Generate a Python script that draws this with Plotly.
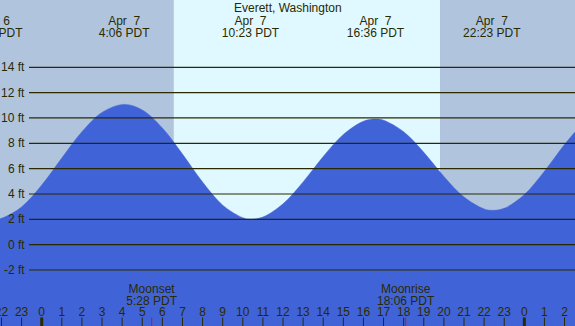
import plotly.graph_objects as go

# ---- data (hours relative to midnight, Apr 7, PDT) ----
tide_hours = [-3, -2.38, -2, -1, 0, 1, 2, 3, 4.1, 5, 6, 7, 8, 9, 10, 10.383, 11, 12, 13,
              14, 15, 16, 16.6, 17, 18, 19, 20, 21, 22, 22.383, 23, 24, 25, 26, 27]
tide_feet = [2.2, 2.0, 2.08, 2.98, 4.70, 6.84, 8.91, 10.44, 11.07, 10.63, 9.21, 7.15, 4.94,
             3.12, 2.13, 2.02, 2.18, 3.22, 4.95, 6.96, 8.70, 9.74, 9.91, 9.82, 8.91, 7.29,
             5.38, 3.76, 2.82, 2.71, 2.87, 3.95, 5.79, 7.91, 9.76]

extreme_hours = [-2.383, 4.1, 10.383, 16.6, 22.383]
extreme_dates = ["Apr\u00a0\u00a06", "Apr\u00a0\u00a07", "Apr\u00a0\u00a07", "Apr\u00a0\u00a07", "Apr\u00a0\u00a07"]
extreme_times = ["21:37 PDT", "4:06 PDT", "10:23 PDT", "16:36 PDT", "22:23 PDT"]

sunrise_hour = 6.567   # 6:34
sunset_hour = 19.81    # 19:49

moon_hours = [5.467, 18.1]
moon_names = ["Moonset", "Moonrise"]
moon_times = ["5:28 PDT", "18:06 PDT"]

hour_ticks = list(range(-2, 27))
hour_labels = [str(h % 24) for h in hour_ticks]

feet_ticks = [14, 12, 10, 8, 6, 4, 2, 0, -2]
feet_labels = [f"{v} ft" for v in feet_ticks]

title = "Everett, Washington"

# ---- styles ----
W, H = 575, 326
NIGHT = "#b0c4de"
DAY = "#e0f8ff"
WATER = "#4163d8"
INK = "#2a2a00"
FONT = "Liberation Sans"
X_RANGE = [-2.074, 26.52]
Y_RANGE = [-6.42, 19.31]

fig = go.Figure()

# baseline under the water fill
fig.add_trace(go.Scatter(x=[X_RANGE[0] - 2, X_RANGE[1] + 2], y=[Y_RANGE[0] - 5] * 2,
                         mode="lines", line=dict(width=0, color=WATER),
                         hoverinfo="skip", showlegend=False))
fig.add_trace(go.Scatter(x=tide_hours, y=tide_feet, mode="lines",
                         line=dict(width=0.5, color=WATER, shape="spline"),
                         fill="tonexty", fillcolor=WATER,
                         hoverinfo="skip", showlegend=False))

# text rows on an overlay axis (0..1)
def text_row(xs, texts, yv):
    fig.add_trace(go.Scatter(x=xs, y=[yv] * len(xs), text=texts, mode="text",
                             textposition="middle center", yaxis="y2", cliponaxis=True,
                             textfont=dict(family=FONT, size=12, color=INK),
                             hoverinfo="skip", showlegend=False))

text_row(extreme_hours, extreme_dates, 1 - 21.5 / H)
text_row(extreme_hours, extreme_times, 1 - 33.5 / H)
text_row(moon_hours, moon_names, 1 - 289.5 / H)
text_row(moon_hours, moon_times, 1 - 301.5 / H)
text_row(hour_ticks, hour_labels, 1 - 313 / H)

shapes = []
# night / day background
shapes.append(dict(type="rect", xref="x", yref="paper", x0=X_RANGE[0] - 1, x1=sunrise_hour,
                   y0=0, y1=1, fillcolor=NIGHT, line=dict(width=0), layer="below"))
shapes.append(dict(type="rect", xref="x", yref="paper", x0=sunrise_hour, x1=sunset_hour,
                   y0=0, y1=1, fillcolor=DAY, line=dict(width=0), layer="below"))
shapes.append(dict(type="rect", xref="x", yref="paper", x0=sunset_hour, x1=X_RANGE[1] + 1,
                   y0=0, y1=1, fillcolor=NIGHT, line=dict(width=0), layer="below"))
# horizontal level lines
for v in feet_ticks:
    shapes.append(dict(type="line", xref="paper", yref="y", x0=29 / W, x1=1, y0=v, y1=v,
                       line=dict(color=INK, width=1.2), layer="above"))
# hour ticks
for h in hour_ticks:
    thick = (h % 24 == 0)
    shapes.append(dict(type="line", xref="x", yref="paper", x0=h, x1=h, y0=0, y1=8.5 / H,
                       line=dict(color=INK, width=3 if thick else 1), layer="above"))
# moon ticks
for h in moon_hours:
    shapes.append(dict(type="line", xref="x", yref="paper", x0=h, x1=h, y0=0, y1=8.5 / H,
                       line=dict(color="#ff0000", width=1), layer="above"))

annotations = []
for v, lab in zip(feet_ticks, feet_labels):
    annotations.append(dict(x=27 / W, xref="paper", y=v, yref="y", text=lab, showarrow=False,
                            xanchor="right", yanchor="middle",
                            font=dict(family=FONT, size=12, color=INK)))
annotations.append(dict(x=0.5, xref="paper", y=1 - 8 / H, yref="paper", text=title,
                        showarrow=False, xanchor="center", yanchor="middle",
                        font=dict(family=FONT, size=12, color=INK)))

fig.update_layout(
    width=W, height=H, margin=dict(l=0, r=0, t=0, b=0),
    paper_bgcolor=WATER, plot_bgcolor=NIGHT,
    xaxis=dict(range=X_RANGE, visible=False, fixedrange=True),
    yaxis=dict(range=Y_RANGE, visible=False, fixedrange=True),
    yaxis2=dict(range=[0, 1], overlaying="y", visible=False, fixedrange=True),
    shapes=shapes, annotations=annotations, showlegend=False,
)

fig.write_html("out.html", config={"displayModeBar": False},
               post_script="document.body.style.margin='0';document.body.style.overflow='hidden';")
